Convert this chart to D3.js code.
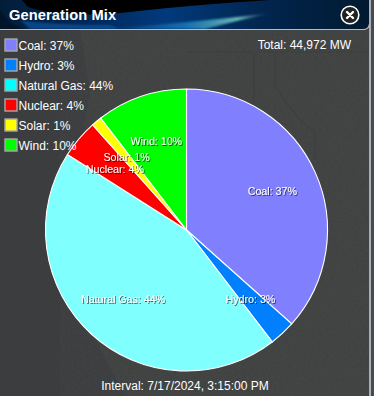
<!DOCTYPE html>
<html>
<head>
<meta charset="utf-8">
<script src="https://cdn.jsdelivr.net/npm/d3@7"></script>
<style>
html, body { margin: 0; padding: 0; background: #3e3f41; overflow: hidden; }
svg { display: block; font-family: "Liberation Sans", Arial, sans-serif; }
</style>
</head>
<body>
<svg id="chart" width="374" height="396"></svg>
<script>
const categories = ['Coal', 'Hydro', 'Natural Gas', 'Nuclear', 'Solar', 'Wind'];
const shares = [36.6, 3.0, 44.4, 4.4, 1.2, 10.4];
const shownPct = [37, 3, 44, 4, 1, 10];
const colors = ['#8080ff', '#0080ff', '#80ffff', '#ff0000', '#ffff00', '#00ff00'];
const legendColors = ['#8080ff', '#0080ff', '#00ffff', '#ff0000', '#ffff00', '#00ff00'];
const titleText = 'Generation Mix';
const totalText = 'Total: 44,972 MW';
const intervalText = 'Interval: 7/17/2024, 3:15:00 PM';

const svg = d3.select('#chart');
const defs = svg.append('defs');

const shadow = defs.append('filter').attr('id', 'txtShadow')
  .attr('x', '-10%').attr('y', '-30%').attr('width', '120%').attr('height', '160%');
shadow.append('feDropShadow').attr('dx', 1).attr('dy', 1).attr('stdDeviation', 0.6)
  .attr('flood-color', '#000').attr('flood-opacity', 0.6);

const headGrad = defs.append('linearGradient').attr('id', 'headGrad');
[['0%', '#031d38'], ['25%', '#00285a'], ['45%', '#023a7c'], ['70%', '#012650'], ['100%', '#011a30']]
  .forEach(s => headGrad.append('stop').attr('offset', s[0]).attr('stop-color', s[1]));

const swoosh = defs.append('linearGradient').attr('id', 'swoosh');
[['0%', '#0a5fae', 0], ['50%', '#1c7fc0', 0.8], ['80%', '#6cb8b4', 1], ['100%', '#3f9fd0', 0]]
  .forEach(s => swoosh.append('stop').attr('offset', s[0]).attr('stop-color', s[1]).attr('stop-opacity', s[2]));

const blur = defs.append('filter').attr('id', 'soft');
blur.append('feGaussianBlur').attr('stdDeviation', 1.2);

const grain = defs.append('filter').attr('id', 'grain')
  .attr('x', 0).attr('y', 0).attr('width', '100%').attr('height', '100%');
grain.append('feTurbulence').attr('type', 'fractalNoise').attr('baseFrequency', '0.35 0.6')
  .attr('numOctaves', 2).attr('seed', 4);
grain.append('feColorMatrix').attr('values', '0 0 0 0 0.32  0 0 0 0 0.32  0 0 0 0 0.32  0.5 0 0 0 -0.1');

// panel background: dark water, slightly lighter land to the right of the coast
const land = 'M80 30L90 90L82 140L60 200L70 290L98 345L125 396H370V30Z';
svg.append('rect').attr('width', 374).attr('height', 396).attr('fill', '#3b3d3f');
svg.append('path').attr('d', land).attr('fill', '#424242').attr('opacity', 0.85);
svg.append('path').attr('d', land).attr('filter', 'url(#grain)').attr('opacity', 0.18);

// faint map lines behind the pie
svg.append('path').attr('d', 'M254 53V104M275 53V85L284 100L300 120L315 132L315 160')
  .attr('fill', 'none').attr('stroke', '#393939').attr('stroke-width', 0.7);
svg.append('line').attr('x1', 187).attr('x2', 369).attr('y1', 52).attr('y2', 52)
  .attr('stroke', '#3c3c3c').attr('stroke-width', 0.7);

// window edge
svg.append('rect').attr('x', 369).attr('y', 0).attr('width', 2).attr('height', 396).attr('fill', '#a9b0bc');
svg.append('rect').attr('x', 371).attr('y', 0).attr('width', 3).attr('height', 396).attr('fill', '#4a4a4a');

// header
const head = svg.append('g');
head.append('path').attr('d', 'M0 0H369V23Q369 29 363 29H0Z').attr('fill', 'url(#headGrad)');
head.append('path').attr('d', 'M22 0H270Q190 5 120 13Q60 18 28 7Z').attr('fill', '#000');
head.append('path').attr('d', 'M0 10Q8 24 24 29H0Z').attr('fill', '#02142a');
head.append('path').attr('d', 'M272 13Q200 22 100 29H205Q235 21 272 13Z')
  .attr('fill', 'url(#swoosh)').attr('filter', 'url(#soft)');
head.append('path').attr('d', 'M20 20Q50 25 110 25L120 29H30Z').attr('fill', '#0a56a4').attr('opacity', 0.7)
  .attr('filter', 'url(#soft)');
head.append('path').attr('d', 'M0 29.5H363Q369 29.5 369.5 24').attr('fill', 'none')
  .attr('stroke', '#b8bcc2').attr('stroke-width', 1.2);

head.append('text').attr('x', 9).attr('y', 20).attr('fill', '#fff')
  .attr('font-size', 14.67).attr('font-weight', 700).attr('letter-spacing', 0.1)
  .text(titleText);

// close button
const close = head.append('g').attr('transform', 'translate(350,15)');
close.append('circle').attr('r', 8.8).attr('fill', '#222').attr('stroke', '#fff').attr('stroke-width', 1.6);
close.append('path').attr('d', 'M-3 -3L3 3M3 -3L-3 3').attr('stroke', '#fff')
  .attr('stroke-width', 2.4).attr('stroke-linecap', 'round');

// pie
const cx = 186.5;
const cy = 230;
const radius = 141;
const pie = d3.pie().value(d => d.value).sort(null);
const arc = d3.arc().innerRadius(0).outerRadius(radius);
const labelArc = d3.arc().innerRadius(94).outerRadius(94);
const rows = categories.map((name, i) => ({ name, value: shares[i], pct: shownPct[i], color: colors[i], legend: legendColors[i] }));

const pieG = svg.append('g').attr('transform', `translate(${cx},${cy})`);
pieG.selectAll('path').data(pie(rows)).enter().append('path')
  .attr('d', arc)
  .attr('fill', d => d.data.color)
  .attr('stroke', '#fff')
  .attr('stroke-width', 1.1);

pieG.selectAll('text').data(pie(rows)).enter().append('text')
  .attr('transform', d => `translate(${labelArc.centroid(d)})`)
  .attr('dy', '0.35em')
  .attr('text-anchor', 'middle')
  .attr('font-size', 10.67)
  .attr('fill', '#fff')
  .attr('filter', 'url(#txtShadow)')
  .text(d => `${d.data.name}: ${d.data.pct}%`);

// legend
const legendY = d3.scaleBand().domain(categories).range([35, 155]);
const legend = svg.append('g').selectAll('g').data(rows).enter().append('g')
  .attr('transform', d => `translate(4,${legendY(d.name)})`);
legend.append('rect').attr('x', 1).attr('y', 4).attr('width', 12).attr('height', 12)
  .attr('fill', d => d.legend).attr('stroke', '#a8a8a8').attr('stroke-width', 1.4);
legend.append('text').attr('x', 14.5).attr('y', 15).attr('fill', '#fff').attr('font-size', 12)
  .text(d => `${d.name}: ${d.pct}%`);

svg.append('text').attr('x', 351).attr('y', 49).attr('text-anchor', 'end')
  .attr('fill', '#fff').attr('font-size', 12).text(totalText);
svg.append('text').attr('x', 185).attr('y', 390).attr('text-anchor', 'middle')
  .attr('fill', '#fff').attr('font-size', 12).text(intervalText);
</script>
</body>
</html>
